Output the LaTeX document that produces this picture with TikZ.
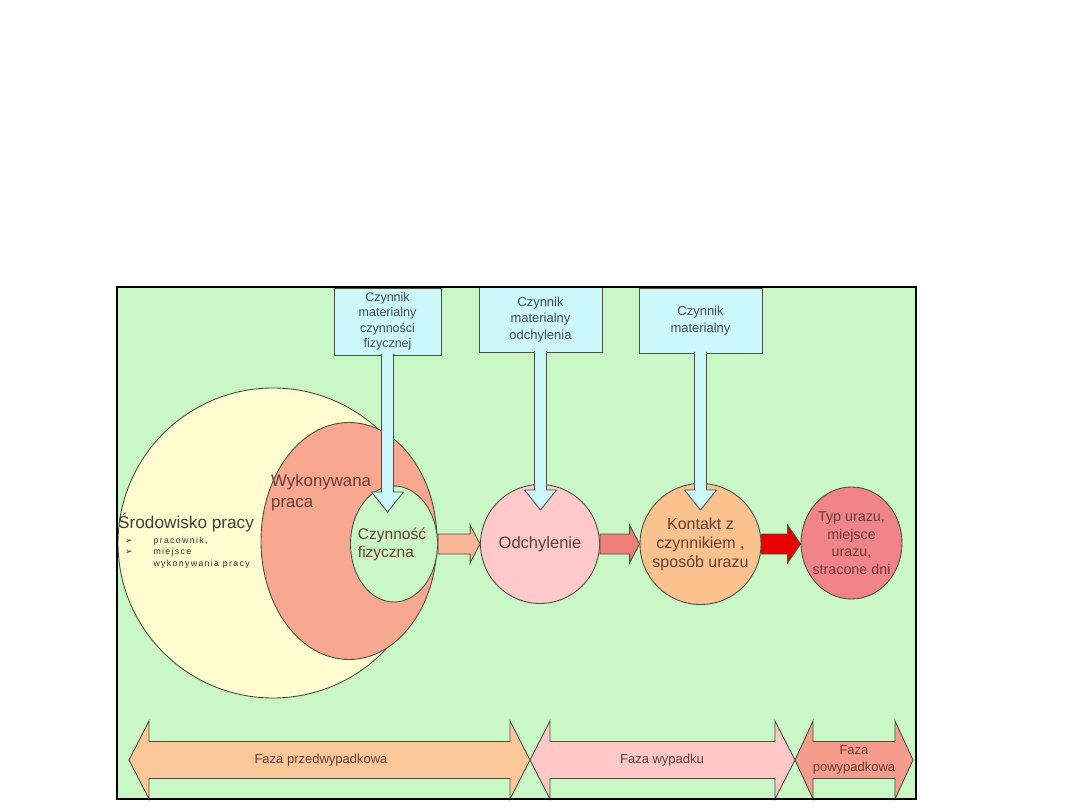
\documentclass[tikz,border=0pt]{standalone}
\usepackage{fontspec}
\setmainfont{Liberation Sans}
\newfontfamily\djv{DejaVu Sans}
\newfontfamily\smallsp[LetterSpace=15]{Liberation Sans}
\usetikzlibrary{shapes.geometric,calc}
\definecolor{panelg}{HTML}{CAF7C6}
\definecolor{envy}{HTML}{FFFDD0}
\definecolor{pracas}{HTML}{F8A890}
\definecolor{boxc}{HTML}{CCF8FC}
\definecolor{odchc}{HTML}{FFC9CB}
\definecolor{kontc}{HTML}{F9C28E}
\definecolor{typc}{HTML}{F0848A}
\definecolor{arra}{HTML}{F9B699}
\definecolor{arrb}{HTML}{EE7E7A}
\definecolor{arrc}{HTML}{E60000}
\definecolor{phasea}{HTML}{FDC899}
\definecolor{phaseb}{HTML}{FFC8C8}
\definecolor{phasec}{HTML}{F59C8C}
\definecolor{lineg}{HTML}{4A5040}
\definecolor{boxtxt}{HTML}{3F4A55}
\definecolor{brtxt}{HTML}{6A3C38}
\newcommand\fsz[2]{\fontsize{#1}{#2}\selectfont}
\newcommand\blkarrow[4]{\path[outl, fill=#3] let \p1=(#1.east), \p2=(#2.west) in
  (\x1,\y1+10pt) -- (\x2-#4,\y1+10pt) -- (\x2-#4,\y1+19pt) -- (\x2,\y1) --
  (\x2-#4,\y1-19pt) -- (\x2-#4,\y1-10pt) -- (\x1,\y1-10pt) -- cycle;}
\newcommand\phasearrow[5]{\path[outl, fill=#5] (#1,760) -- (#2,721) -- (#2,741.5) --
  (#3,741.5) -- (#3,721) -- (#4,760) -- (#3,799) -- (#3,778.5) -- (#2,778.5) --
  (#2,799) -- cycle;}
\begin{document}
\begin{tikzpicture}[x=1pt,y=-1pt,
  outl/.style={draw=lineg, line width=0.9pt},
  disc/.style={outl, circle, inner sep=0pt},
  oval/.style={outl, ellipse, inner sep=0pt},
  cbox/.style={outl, fill=boxc, rectangle, inner sep=0pt, align=center, text=boxtxt},
  lbl/.style={inner sep=0pt, text=brtxt}]
\useasboundingbox (0,0) rectangle (1080,810);
\fill[white] (0,0) rectangle (1080,810);
% panel
\fill[panelg] (117,287) rectangle (916,799);
% nested circles
\node[disc, fill=envy, minimum size=310] (env) at (273,543) {};
\node[oval, fill=pracas, minimum width=176, minimum height=237] (praca) at (349,541) {};
\node[oval, fill=panelg, minimum width=87, minimum height=116] (czyn) at (394,544) {};
\node[lbl, align=left, font=\fsz{15.5}{18}] (czynT) at (392,544) {Czynność\\fizyczna};
\node[lbl, anchor=north west, align=left, font=\fsz{16.8}{21}] (pracaT) at (271,474) {Wykonywana\\praca};
\node[inner sep=0pt, anchor=base west, text=black!75, font=\fsz{17.2}{19}] (envT) at (118,529) {Środowisko pracy};
\node[inner sep=0pt, anchor=north west, text=black!80] (envL) at (125,535)
  {\fsz{8.8}{11.5}\begin{tabular}{@{}l@{\hspace{21pt}}l@{}}{\djv ➢} & {\smallsp pracownik,}\\
   {\djv ➢} & {\smallsp miejsce}\\ & {\smallsp wykonywania pracy}\end{tabular}};
% chain circles
\node[disc, fill=odchc, minimum size=119] (odch) at (540,544) {};
\node[lbl, font=\fsz{16.5}{19}] (odchT) at (odch) {Odchylenie};
\node[disc, fill=kontc, minimum size=121] (kont) at (700.5,544) {};
\node[lbl, align=center, font=\fsz{16}{19}] (kontT) at (kont) {Kontakt z\\czynnikiem ,\\sposób urazu};
\node[oval, fill=typc, minimum width=101, minimum height=112] (typ) at (851.5,543) {};
\node[lbl, align=center, font=\fsz{14.3}{17.5}] (typT) at (typ) {Typ urazu,\\miejsce\\urazu,\\stracone dni};
% block arrows
\blkarrow{czyn}{odch}{arra}{10pt}
\blkarrow{odch}{kont}{arrb}{10pt}
\blkarrow{kont}{typ}{arrc}{13pt}
% callout boxes
\node[cbox, minimum width=107, minimum height=67, font=\fsz{12.5}{15.5}] (b1) at (387.5,321.5) {Czynnik\\materialny\\czynności\\fizycznej};
\node[cbox, minimum width=123, minimum height=65, font=\fsz{13}{16.5}] (b2) at (540.5,319.5) {Czynnik\\materialny\\odchylenia};
\node[cbox, minimum width=123, minimum height=65, font=\fsz{13}{16.5}] (b3) at (700.5,320.5) {Czynnik\\materialny};
\coordinate (t1) at (b1.south |- 0,512);
\coordinate (t2) at (b2.south |- 0,510);
\coordinate (t3) at (b3.south |- 0,510);
\foreach \b/\t in {b1/t1,b2/t2,b3/t3}{
  \path[outl, fill=boxc] ([xshift=-6pt,yshift=1.5pt]\b.south) -- ([xshift=-6pt,yshift=20pt]\t) --
    ([xshift=-16pt,yshift=20pt]\t) -- (\t) -- ([xshift=16pt,yshift=20pt]\t) --
    ([xshift=6pt,yshift=20pt]\t) -- ([xshift=6pt,yshift=1.5pt]\b.south);
}
% phase arrows
\phasearrow{129}{149}{510}{530}{phasea}
\phasearrow{530}{550}{775}{795}{phaseb}
\phasearrow{795}{813}{895}{913}{phasec}
\node[lbl, font=\fsz{13}{16}] (pha) at (321,760) {Faza przedwypadkowa};
\node[lbl, font=\fsz{13}{16}] (phb) at (662,760) {Faza wypadku};
\node[lbl, align=center, font=\fsz{13}{17}] (phc) at (854,760) {Faza\\powypadkowa};
% panel border
\draw[black, line width=1.3pt] (117,287) rectangle (916,799);
\end{tikzpicture}
\end{document}
